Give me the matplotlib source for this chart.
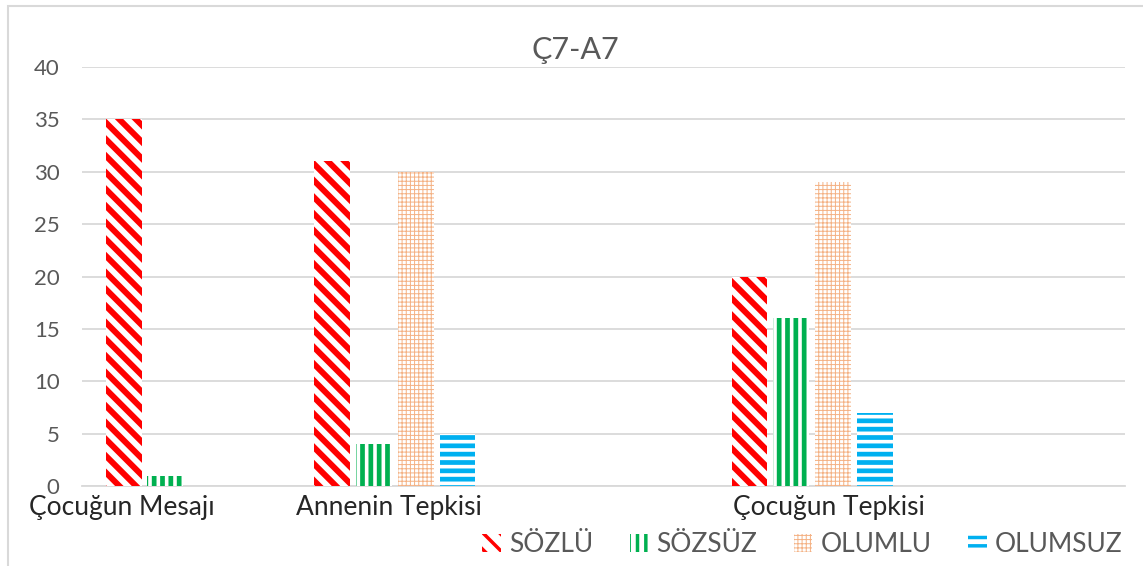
import matplotlib.pyplot as plt
import numpy as np
from matplotlib.patches import Rectangle
from matplotlib.transforms import blended_transform_factory

plt.rcParams['font.family'] = ['Lato', 'DejaVu Sans']

# Excel tablosundaki gibi 5 satir, 3. ve 5. satir bos
kategoriler = ['Çocuğun Mesajı', 'Annenin Tepkisi', '', 'Çocuğun Tepkisi', '']
sozlu = [35, 31, np.nan, 20, np.nan]
sozsuz = [1, 4, np.nan, 16, np.nan]
olumlu = [0, 30, np.nan, 29, np.nan]
olumsuz = [0, 5, np.nan, 7, np.nan]
seri_adlari = ['SÖZLÜ', 'SÖZSÜZ', 'OLUMLU', 'OLUMSUZ']
baslik = 'Ç7-A7'

seriler = [sozlu, sozsuz, olumlu, olumsuz]
renkler = ['#FF0000', '#00B050', '#F4B183', '#00B0F0']
taramalar = ['\\\\', '||', '++++', '--']
tarama_kalinlik = [4.3, 3.4, 0.7, 3.4]

fig = plt.figure(figsize=(11.43, 5.66), dpi=100)
ax = fig.add_axes([0.0717, 0.1413, 0.9126, 0.7403])

x = np.arange(len(kategoriler))
genislik = 0.172
aralik = 0.2
for i, (veri, ad) in enumerate(zip(seriler, seri_adlari)):
    plt.rcParams['hatch.linewidth'] = tarama_kalinlik[i]
    bars = ax.bar(x + (i - 1.5) * aralik, veri, genislik, label=ad,
                  facecolor='white', edgecolor=renkler[i], hatch=taramalar[i],
                  linewidth=0, zorder=3)
    for b in bars:
        if hasattr(b, 'set_hatch_linewidth'):
            b.set_hatch_linewidth(tarama_kalinlik[i])

ax.set_xlim(-0.5, len(kategoriler) - 0.5)
ax.set_ylim(0, 40)
ax.set_yticks(range(0, 41, 5))
ax.yaxis.grid(True, color='#d9d9d9', linewidth=1.3, zorder=0)
ax.set_axisbelow(True)
for s in ['top', 'right', 'left']:
    ax.spines[s].set_visible(False)
ax.spines['bottom'].set_color('#d9d9d9')
ax.spines['bottom'].set_linewidth(1.3)
ax.tick_params(axis='y', length=0, labelsize=16, labelcolor='#595959', pad=16)
ax.set_xticks([])

# kategori yazilari, Excel'deki gibi biraz kaymis
kayma = [-0.31, -0.03, 0, 0.08, 0]
tr = blended_transform_factory(ax.transData, ax.transAxes)
for xi, ad, k in zip(x, kategoriler, kayma):
    if ad:
        ax.text(xi + k, -0.022, ad, transform=tr, ha='center', va='top',
                fontsize=19, color='#262626')

fig.text(0.503, 0.912, baslik, ha='center', va='center', fontsize=22, color='#595959')

leg = fig.legend(loc='center right', bbox_to_anchor=(0.982, 0.038), ncol=4,
                 frameon=False, fontsize=19, handlelength=0.7, handleheight=0.7,
                 handletextpad=0.3, columnspacing=1.4, borderpad=0, borderaxespad=0)
for t in leg.get_texts():
    t.set_color('#595959')
for h, lw in zip(leg.legend_handles, tarama_kalinlik):
    if hasattr(h, 'set_hatch_linewidth'):
        h.set_hatch_linewidth(min(lw, 2.5))

fig.patches.append(Rectangle((0.007, -0.01), 0.995, 1.0, transform=fig.transFigure,
                             fill=False, edgecolor='#d9d9d9', linewidth=1.5))

fig.savefig('out.png', dpi=100)
